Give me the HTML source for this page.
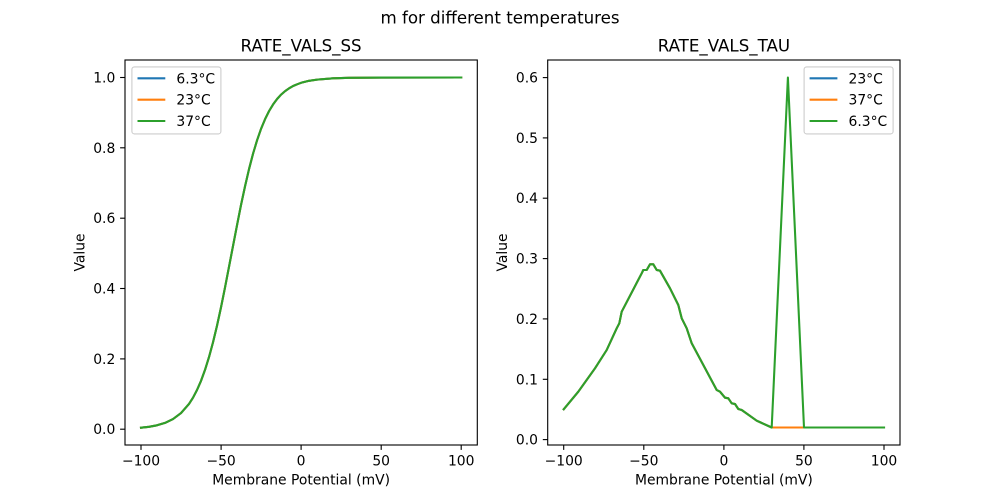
<!DOCTYPE html>
<html>
<head>
<meta charset="utf-8">
<style>
  html, body { margin: 0; padding: 0; background: #ffffff; }
  svg { display: block; }
  text { font-family: "DejaVu Sans", "Liberation Sans", sans-serif; fill: #000; }
</style>
</head>
<body>
<svg width="1000" height="500" viewBox="0 0 1000 500" xmlns="http://www.w3.org/2000/svg">
  <rect x="0" y="0" width="1000" height="500" fill="#ffffff"/>

  <!-- Suptitle -->
  <text x="500" y="23.5" font-size="16.67" text-anchor="middle">m for different temperatures</text>

  <!-- ================= LEFT AXES ================= -->
  <text x="301.1" y="51.7" font-size="16.67" text-anchor="middle">RATE_VALS_SS</text>

  <g fill="none" stroke-width="2.08" stroke-linejoin="round" stroke-linecap="square">
    <polyline stroke="#1f77b4" points="141.0,427.7 149.0,426.8 157.0,425.3 165.0,422.9 173.0,419.1 181.0,413.1 189.0,403.9 193.0,397.7 197.0,390.0 201.0,380.9 205.0,369.9 209.0,357.1 213.0,342.4 217.0,325.7 221.0,307.4 225.0,287.6 229.0,266.8 233.05,245.8 237.1,224.8 241.05,204.8 245.1,186.0 249.1,168.8 253.1,153.5 257.1,140.2 261.1,128.7 265.1,119.1 269.1,111.0 273.1,104.4 277.1,99.0 281.1,94.6 285.1,91.1 289.1,88.3 293.1,86.0 297.1,84.3 301.1,82.8 309.1,80.8 317.1,79.6 333.1,78.3 349.1,77.8 381.2,77.55 461.2,77.5"/>
    <polyline stroke="#ff7f0e" points="141.0,427.7 149.0,426.8 157.0,425.3 165.0,422.9 173.0,419.1 181.0,413.1 189.0,403.9 193.0,397.7 197.0,390.0 201.0,380.9 205.0,369.9 209.0,357.1 213.0,342.4 217.0,325.7 221.0,307.4 225.0,287.6 229.0,266.8 233.05,245.8 237.1,224.8 241.05,204.8 245.1,186.0 249.1,168.8 253.1,153.5 257.1,140.2 261.1,128.7 265.1,119.1 269.1,111.0 273.1,104.4 277.1,99.0 281.1,94.6 285.1,91.1 289.1,88.3 293.1,86.0 297.1,84.3 301.1,82.8 309.1,80.8 317.1,79.6 333.1,78.3 349.1,77.8 381.2,77.55 461.2,77.5"/>
    <polyline stroke="#2ca02c" points="141.0,427.7 149.0,426.8 157.0,425.3 165.0,422.9 173.0,419.1 181.0,413.1 189.0,403.9 193.0,397.7 197.0,390.0 201.0,380.9 205.0,369.9 209.0,357.1 213.0,342.4 217.0,325.7 221.0,307.4 225.0,287.6 229.0,266.8 233.05,245.8 237.1,224.8 241.05,204.8 245.1,186.0 249.1,168.8 253.1,153.5 257.1,140.2 261.1,128.7 265.1,119.1 269.1,111.0 273.1,104.4 277.1,99.0 281.1,94.6 285.1,91.1 289.1,88.3 293.1,86.0 297.1,84.3 301.1,82.8 309.1,80.8 317.1,79.6 333.1,78.3 349.1,77.8 381.2,77.55 461.2,77.5"/>
  </g>

  <!-- spines -->
  <rect x="125" y="60" width="352.3" height="385" fill="none" stroke="#000" stroke-width="1.11"/>

  <!-- x ticks -->
  <g stroke="#000" stroke-width="1.11">
    <line x1="141.0" y1="445" x2="141.0" y2="449.9"/>
    <line x1="221.1" y1="445" x2="221.1" y2="449.9"/>
    <line x1="301.1" y1="445" x2="301.1" y2="449.9"/>
    <line x1="381.2" y1="445" x2="381.2" y2="449.9"/>
    <line x1="461.2" y1="445" x2="461.2" y2="449.9"/>
  </g>
  <g font-size="13.89" text-anchor="middle">
    <text x="141.0" y="465.3">−100</text>
    <text x="221.1" y="465.3">−50</text>
    <text x="301.1" y="465.3">0</text>
    <text x="381.2" y="465.3">50</text>
    <text x="461.2" y="465.3">100</text>
  </g>
  <!-- y ticks -->
  <g stroke="#000" stroke-width="1.11">
    <line x1="120.1" y1="429.2" x2="125" y2="429.2"/>
    <line x1="120.1" y1="358.9" x2="125" y2="358.9"/>
    <line x1="120.1" y1="288.5" x2="125" y2="288.5"/>
    <line x1="120.1" y1="218.2" x2="125" y2="218.2"/>
    <line x1="120.1" y1="147.8" x2="125" y2="147.8"/>
    <line x1="120.1" y1="77.5" x2="125" y2="77.5"/>
  </g>
  <g font-size="13.89" text-anchor="end">
    <text x="115.3" y="434.2">0.0</text>
    <text x="115.3" y="363.9">0.2</text>
    <text x="115.3" y="293.5">0.4</text>
    <text x="115.3" y="223.2">0.6</text>
    <text x="115.3" y="152.8">0.8</text>
    <text x="115.3" y="82.5">1.0</text>
  </g>
  <text x="301.1" y="484.7" font-size="13.89" text-anchor="middle">Membrane Potential (mV)</text>
  <text transform="translate(84.3,252.5) rotate(-90)" font-size="13.89" text-anchor="middle">Value</text>

  <!-- legend left -->
  <rect x="131.9" y="66.9" width="89" height="67" rx="2.5" ry="2.5" fill="#ffffff" fill-opacity="0.8" stroke="#cccccc" stroke-width="1.1"/>
  <g stroke-width="2.08">
    <line x1="137.5" y1="78.3" x2="165.3" y2="78.3" stroke="#1f77b4"/>
    <line x1="137.5" y1="99.7" x2="165.3" y2="99.7" stroke="#ff7f0e"/>
    <line x1="137.5" y1="121.0" x2="165.3" y2="121.0" stroke="#2ca02c"/>
  </g>
  <g font-size="13.89">
    <text x="176.4" y="83.3">6.3°C</text>
    <text x="176.4" y="104.7">23°C</text>
    <text x="176.4" y="126.0">37°C</text>
  </g>

  <!-- ================= RIGHT AXES ================= -->
  <text x="723.9" y="51.7" font-size="16.67" text-anchor="middle">RATE_VALS_TAU</text>

  <g fill="none" stroke-width="2.08" stroke-linejoin="round" stroke-linecap="square">
    <polyline stroke="#1f77b4" points="563.7,409.3 578.3,391.7 595,368.3 606.7,350 616.7,328.3 619.3,323.3 621.7,311.7 641.7,273.3 643.3,270 646.7,270 650,264.3 653.3,264.3 656.7,270 660,270.7 670,288.3 678.3,305 681.7,318.3 686.7,328.3 691.7,343.3 716.7,390 720,391.7 725,397.7 728.3,398.3 731.7,403.3 735,404 738.3,409 741.7,410 756.7,420.7 771.7,427.5 804.0,427.5 884.0,427.5"/>
    <polyline stroke="#ff7f0e" points="563.7,409.3 578.3,391.7 595,368.3 606.7,350 616.7,328.3 619.3,323.3 621.7,311.7 641.7,273.3 643.3,270 646.7,270 650,264.3 653.3,264.3 656.7,270 660,270.7 670,288.3 678.3,305 681.7,318.3 686.7,328.3 691.7,343.3 716.7,390 720,391.7 725,397.7 728.3,398.3 731.7,403.3 735,404 738.3,409 741.7,410 756.7,420.7 771.7,427.5 804.0,427.5 884.0,427.5"/>
    <polyline stroke="#2ca02c" points="563.7,409.3 578.3,391.7 595,368.3 606.7,350 616.7,328.3 619.3,323.3 621.7,311.7 641.7,273.3 643.3,270 646.7,270 650,264.3 653.3,264.3 656.7,270 660,270.7 670,288.3 678.3,305 681.7,318.3 686.7,328.3 691.7,343.3 716.7,390 720,391.7 725,397.7 728.3,398.3 731.7,403.3 735,404 738.3,409 741.7,410 756.7,420.7 771.7,427.5 787.9,77.6 804.0,427.5 884.0,427.5"/>
  </g>

  <rect x="547.7" y="60" width="352.3" height="385" fill="none" stroke="#000" stroke-width="1.11"/>

  <g stroke="#000" stroke-width="1.11">
    <line x1="563.7" y1="445" x2="563.7" y2="449.9"/>
    <line x1="643.8" y1="445" x2="643.8" y2="449.9"/>
    <line x1="723.9" y1="445" x2="723.9" y2="449.9"/>
    <line x1="803.9" y1="445" x2="803.9" y2="449.9"/>
    <line x1="884.0" y1="445" x2="884.0" y2="449.9"/>
  </g>
  <g font-size="13.89" text-anchor="middle">
    <text x="563.7" y="465.3">−100</text>
    <text x="643.8" y="465.3">−50</text>
    <text x="723.9" y="465.3">0</text>
    <text x="803.9" y="465.3">50</text>
    <text x="884.0" y="465.3">100</text>
  </g>
  <g stroke="#000" stroke-width="1.11">
    <line x1="542.8" y1="439.6" x2="547.7" y2="439.6"/>
    <line x1="542.8" y1="379.3" x2="547.7" y2="379.3"/>
    <line x1="542.8" y1="318.9" x2="547.7" y2="318.9"/>
    <line x1="542.8" y1="258.6" x2="547.7" y2="258.6"/>
    <line x1="542.8" y1="198.2" x2="547.7" y2="198.2"/>
    <line x1="542.8" y1="137.9" x2="547.7" y2="137.9"/>
    <line x1="542.8" y1="77.6" x2="547.7" y2="77.6"/>
  </g>
  <g font-size="13.89" text-anchor="end">
    <text x="538.0" y="444.6">0.0</text>
    <text x="538.0" y="384.3">0.1</text>
    <text x="538.0" y="323.9">0.2</text>
    <text x="538.0" y="263.6">0.3</text>
    <text x="538.0" y="203.2">0.4</text>
    <text x="538.0" y="142.9">0.5</text>
    <text x="538.0" y="82.6">0.6</text>
  </g>
  <text x="723.9" y="484.7" font-size="13.89" text-anchor="middle">Membrane Potential (mV)</text>
  <text transform="translate(507.0,252.5) rotate(-90)" font-size="13.89" text-anchor="middle">Value</text>

  <!-- legend right -->
  <rect x="804.1" y="66.9" width="89" height="67" rx="2.5" ry="2.5" fill="#ffffff" fill-opacity="0.8" stroke="#cccccc" stroke-width="1.1"/>
  <g stroke-width="2.08">
    <line x1="809.6" y1="78.3" x2="837.4" y2="78.3" stroke="#1f77b4"/>
    <line x1="809.6" y1="99.7" x2="837.4" y2="99.7" stroke="#ff7f0e"/>
    <line x1="809.6" y1="121.0" x2="837.4" y2="121.0" stroke="#2ca02c"/>
  </g>
  <g font-size="13.89">
    <text x="848.5" y="83.3">23°C</text>
    <text x="848.5" y="104.7">37°C</text>
    <text x="848.5" y="126.0">6.3°C</text>
  </g>
</svg>
</body>
</html>
